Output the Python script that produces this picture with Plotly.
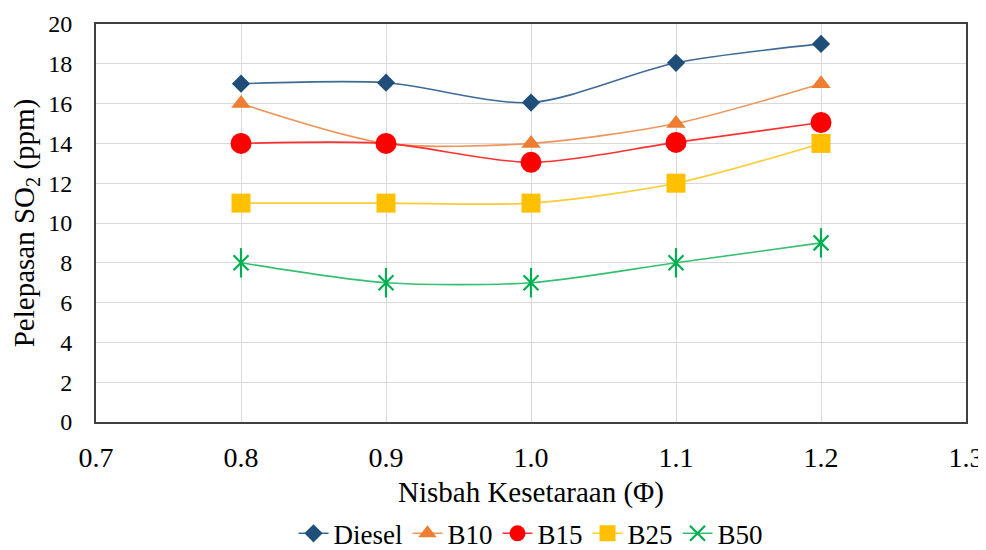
import plotly.graph_objects as go

phi = [0.8, 0.9, 1.0, 1.1, 1.2]
diesel = [17, 17.05, 16.05, 18.05, 19]
b10 = [16, 14, 14, 15, 17]
b15 = [14, 14, 13.05, 14.05, 15.05]
b25 = [11, 11, 11, 12, 14]
b50 = [8, 7, 7, 8, 9]

x_ticks = [0.7, 0.8, 0.9, 1.0, 1.1, 1.2, 1.3]
x_ticktext = ["0.7", "0.8", "0.9", "1.0", "1.1", "1.2", "1.3"]

series = [
    ("Diesel", diesel, "#1F4E79", "#3E6A96", "diamond", 14),
    ("B10", b10, "#ED7D31", "#F0955A", "triangle-up", 17),
    ("B15", b15, "#FF0000", "#FF3030", "circle", 21),
    ("B25", b25, "#FFC000", "#FFCC33", "square", 19),
    ("B50", b50, "#00B050", "#33C070", "x-thin-open", 15),
]

fig = go.Figure()
for name, ys, mc, lc, sym, sz in series:
    marker = dict(symbol=sym, size=sz, color=mc)
    if sym.endswith("-open"):
        marker["line"] = dict(color=mc, width=2.2)
    else:
        marker["line"] = dict(width=0)
    fig.add_trace(go.Scatter(
        x=phi, y=ys, name=name, mode="lines+markers",
        line=dict(color=lc, width=1.6, shape="spline", smoothing=0.8),
        marker=marker,
    ))
    if sym == "x-thin-open":
        # vertical stroke completes the six-armed asterisk marker
        fig.add_trace(go.Scatter(
            x=phi, y=ys, mode="markers", showlegend=False, hoverinfo="skip",
            marker=dict(symbol="line-ns-open", size=21, color=mc,
                        line=dict(color=mc, width=2.2)),
        ))

SERIF = "Liberation Serif"
# page body has an 8px margin, so the figure is 978x542 placed at (8, 8)
fig.update_layout(
    width=978, height=542,
    margin=dict(l=88, r=20, t=16, b=128, autoexpand=False),
    paper_bgcolor="white", plot_bgcolor="white",
    font=dict(family=SERIF, size=24, color="#000000"),
    legend=dict(orientation="h", x=0.5, xanchor="center",
                yref="container", y=0.03, yanchor="middle",
                font=dict(family=SERIF, size=27), itemwidth=30, tracegroupgap=0,
                itemsizing="trace"),
)
fig.update_xaxes(
    range=[0.7, 1.3], tickmode="array", tickvals=x_ticks, ticktext=x_ticktext,
    tickfont=dict(family=SERIF, size=28),
    showgrid=True, gridcolor="#D9D9D9", gridwidth=1,
    showline=True, linecolor="#404040", linewidth=2, mirror=True,
    ticks="", ticklabelstandoff=9, zeroline=False, automargin=False,
    title=dict(text="Nisbah Kesetaraan (Φ)", standoff=11, font=dict(family=SERIF, size=29)),
)
fig.update_yaxes(
    range=[0, 20], dtick=2,
    tickfont=dict(family=SERIF, size=24),
    showgrid=True, gridcolor="#D9D9D9", gridwidth=1,
    showline=True, linecolor="#404040", linewidth=2, mirror=True,
    ticks="", ticklabelstandoff=17, zeroline=False, automargin=False,
    title=dict(text="Pelepasan SO<sub>2</sub> (ppm)", standoff=5, font=dict(family=SERIF, size=29)),
)
fig.write_html("out.html")
